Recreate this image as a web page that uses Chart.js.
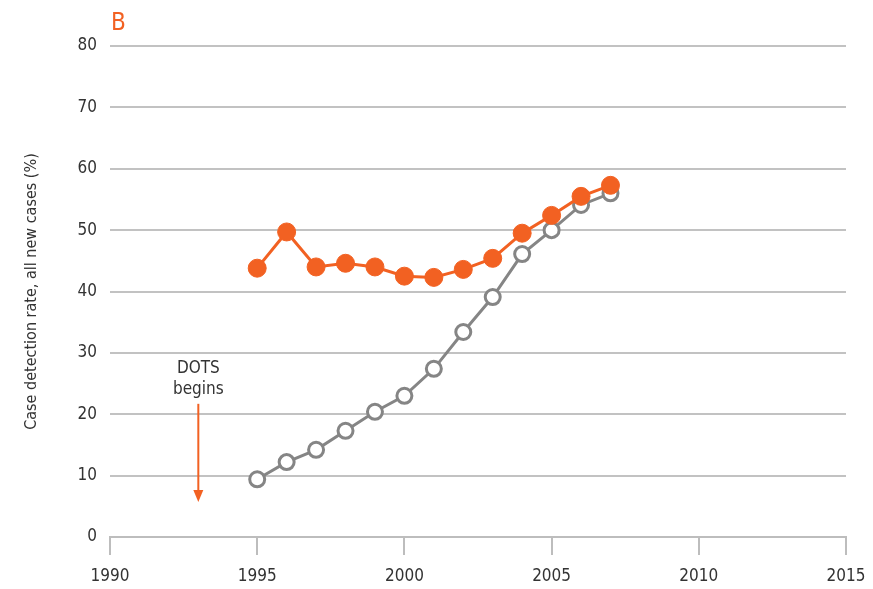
<!DOCTYPE html>
<html>
<head>
<meta charset="utf-8">
<script src="https://cdn.jsdelivr.net/npm/chart.js@4/dist/chart.umd.min.js"></script>
<style>
  body { margin: 0; background: #fff; }
  #wrap { width: 873px; height: 589px; position: relative; }
</style>
</head>
<body>
<div id="wrap"><canvas id="cdrChart"></canvas></div>
<script>
const years = [1995, 1996, 1997, 1998, 1999, 2000, 2001, 2002, 2003, 2004, 2005, 2006, 2007];
const smearPositive = [43.8, 49.7, 44.0, 44.6, 44.0, 42.5, 42.3, 43.6, 45.4, 49.5, 52.4, 55.5, 57.3];
const allNewCases = [9.4, 12.2, 14.2, 17.3, 20.4, 23.0, 27.4, 33.4, 39.1, 46.1, 50.0, 54.1, 56.0];
const xTicks = [1990, 1995, 2000, 2005, 2010, 2015];
const yTicks = [0, 10, 20, 30, 40, 50, 60, 70, 80];
const dotsYear = 1993;

const FONT = "'Liberation Sans Narrow', 'DejaVu Sans Condensed', 'Liberation Sans', sans-serif";
const ORANGE = "#f26122";
const GREY = "#858585";

// panel letter + "DOTS begins" arrow
const annotations = {
  id: "annotations",
  afterDatasetsDraw(chart) {
    const { ctx, scales } = chart;
    const x = scales.x.getPixelForValue(dotsYear);
    ctx.save();
    ctx.fillStyle = ORANGE;
    ctx.font = "500 24px " + FONT;
    ctx.textAlign = "left";
    ctx.textBaseline = "alphabetic";
    ctx.fillText("B", 111, 30);

    ctx.fillStyle = "#333";
    ctx.font = "17px " + FONT;
    ctx.textAlign = "center";
    ctx.fillText("DOTS", x, scales.y.getPixelForValue(26.7));
    ctx.fillText("begins", x, scales.y.getPixelForValue(23.3));

    const yTop = scales.y.getPixelForValue(21.7);
    const yBot = scales.y.getPixelForValue(5.7);
    ctx.strokeStyle = ORANGE;
    ctx.lineWidth = 2;
    ctx.beginPath();
    ctx.moveTo(x, yTop);
    ctx.lineTo(x, yBot - 10);
    ctx.stroke();
    ctx.fillStyle = ORANGE;
    ctx.beginPath();
    ctx.moveTo(x - 5, yBot - 12);
    ctx.lineTo(x + 5, yBot - 12);
    ctx.lineTo(x, yBot);
    ctx.closePath();
    ctx.fill();
    ctx.restore();
  }
};

new Chart(document.getElementById("cdrChart"), {
  type: "line",
  data: {
    datasets: [
      {
        label: "Smear-positive",
        data: years.map((y, i) => ({ x: y, y: smearPositive[i] })),
        borderColor: ORANGE,
        backgroundColor: ORANGE,
        pointBackgroundColor: ORANGE,
        pointBorderColor: ORANGE,
        borderWidth: 3,
        pointRadius: 9,
        pointBorderWidth: 1,
        order: 0
      },
      {
        label: "All new cases",
        data: years.map((y, i) => ({ x: y, y: allNewCases[i] })),
        borderColor: GREY,
        backgroundColor: "#fff",
        pointBackgroundColor: "#fff",
        pointBorderColor: GREY,
        borderWidth: 3,
        pointRadius: 7.5,
        pointBorderWidth: 3,
        order: 1
      }
    ]
  },
  options: {
    responsive: true,
    maintainAspectRatio: false,
    animation: false,
    layout: { padding: { top: 46, right: 27, bottom: 0, left: 0 } },
    plugins: {
      legend: { display: false },
      tooltip: { enabled: false }
    },
    scales: {
      x: {
        type: "linear",
        min: 1990,
        max: 2015,
        afterBuildTicks: s => { s.ticks = xTicks.map(v => ({ value: v })); },
        afterFit: s => { s.height = 52; s.paddingLeft = 0; s.paddingRight = 0; },
        grid: {
          drawOnChartArea: false,
          drawTicks: true,
          tickLength: 18,
          color: "#bdbdbd",
          lineWidth: 2
        },
        border: { display: true, color: "#bdbdbd", width: 2 },
        ticks: {
          color: "#333",
          font: { family: FONT, size: 17 },
          padding: 11,
          maxRotation: 0,
          callback: v => String(v)
        }
      },
      y: {
        min: 0,
        max: 80,
        afterBuildTicks: s => { s.ticks = yTicks.map(v => ({ value: v })); },
        afterFit: s => { s.width = 110; },
        grid: {
          color: "#c2c2c2",
          lineWidth: 2,
          drawTicks: false
        },
        border: { display: false },
        ticks: {
          color: "#333",
          font: { family: FONT, size: 17 },
          padding: 13
        },
        title: {
          display: true,
          text: "Case detection rate, all new cases (%)",
          color: "#333",
          font: { family: FONT, size: 16 },
          padding: { top: 22, bottom: 18 }
        }
      }
    }
  },
  plugins: [annotations]
});
</script>
</body>
</html>
